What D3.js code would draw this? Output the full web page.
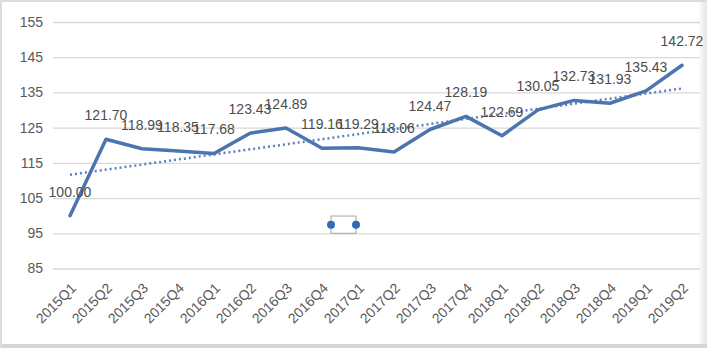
<!DOCTYPE html>
<html><head><meta charset="utf-8">
<script src="https://cdn.jsdelivr.net/npm/d3@7"></script>
<style>html,body{margin:0;padding:0;background:#fff;}svg{display:block;}</style>
</head><body>
<svg id="c" width="707" height="348"></svg>
<script>
const categories = ["2015Q1","2015Q2","2015Q3","2015Q4","2016Q1","2016Q2","2016Q3","2016Q4","2017Q1","2017Q2","2017Q3","2017Q4","2018Q1","2018Q2","2018Q3","2018Q4","2019Q1","2019Q2"];
const values = [100.00,121.70,118.99,118.35,117.68,123.43,124.89,119.16,119.29,118.06,124.47,128.19,122.69,130.05,132.73,131.93,135.43,142.72];
const yTicks = [85,95,105,115,125,135,145,155];

const W = 707, H = 348;
const svg = d3.select("#c");
const defs = svg.append("defs");
const g1 = defs.append("linearGradient").attr("id","rs").attr("x1","0").attr("x2","1");
g1.append("stop").attr("offset","0").attr("stop-color","#ffffff");
g1.append("stop").attr("offset","1").attr("stop-color","#e4e4e4");

svg.append("rect").attr("x",0).attr("y",0).attr("width",W).attr("height",H).attr("fill","#fff");
// frame
svg.append("rect").attr("x",698).attr("y",0).attr("width",9).attr("height",H).attr("fill","url(#rs)");
svg.append("rect").attr("x",0).attr("y",344).attr("width",W).attr("height",4).attr("fill","#d6d6d6");
svg.append("rect").attr("x",0).attr("y",0).attr("width",W).attr("height",2).attr("fill","#dcdcdc");
svg.append("rect").attr("x",0).attr("y",0).attr("width",2).attr("height",H).attr("fill","#dcdcdc");

const x = d3.scalePoint().domain(categories).range([70, 682]);
const y = d3.scaleLinear().domain([85,155]).range([268.5, 22]);

// gridlines
const yAxis = d3.axisLeft(y).tickValues(yTicks).tickSize(-(700-53)).tickPadding(8).tickFormat(d3.format("d"));
const ya = svg.append("g").attr("transform","translate(53,0)").call(yAxis);
ya.select(".domain").remove();
ya.selectAll(".tick line").attr("stroke","#d9d9d9").attr("stroke-width",1.3);
ya.selectAll(".tick text").attr("fill","#595959").attr("font-family","Liberation Sans, Arial, sans-serif").attr("font-size",14).attr("x",-10);

// x axis labels
const xAxis = d3.axisBottom(x).tickSize(0).tickPadding(0);
const xa = svg.append("g").attr("transform","translate(0,268.5)").call(xAxis);
xa.select(".domain").remove();
xa.selectAll(".tick text")
  .attr("fill","#595959").attr("font-family","Liberation Sans, Arial, sans-serif").attr("font-size",14)
  .attr("text-anchor","end").attr("dy","0.35em").attr("x",0).attr("y",0)
  .attr("transform","translate(3,17) rotate(-45)");

// trendline (linear least squares)
const n = values.length;
const xs = d3.range(n);
const mx = d3.mean(xs), my = d3.mean(values);
const slope = d3.sum(xs, i => (i-mx)*(values[i]-my)) / d3.sum(xs, i => (i-mx)*(i-mx));
const icpt = my - slope*mx;
svg.append("line")
  .attr("x1", x(categories[0])).attr("y1", y(icpt))
  .attr("x2", x(categories[n-1])).attr("y2", y(icpt + slope*(n-1)))
  .attr("stroke","#5b82bd").attr("stroke-width",2.5).attr("stroke-dasharray","2,3");

// main line
const line = d3.line().x((d,i)=>x(categories[i])).y(d=>y(d));
svg.append("path").datum(values).attr("d",line)
  .attr("fill","none").attr("stroke","#4c74ae").attr("stroke-width",3.5)
  .attr("stroke-linejoin","round").attr("stroke-linecap","round");

// data labels
svg.append("g").selectAll("text").data(values).join("text")
  .attr("x",(d,i)=>x(categories[i]))
  .attr("y",d=>y(d)-19)
  .attr("text-anchor","middle")
  .attr("fill","#4d4d4d").attr("font-family","Liberation Sans, Arial, sans-serif").attr("font-size",14)
  .text(d=>d.toFixed(2));

// selection handles artifact
const hx1 = 331, hx2 = 356;
svg.append("rect").attr("x",hx1).attr("y",y(99.9)).attr("width",hx2-hx1).attr("height",y(95)-y(99.9))
  .attr("fill","none").attr("stroke","#a6a6a6").attr("stroke-width",1);
svg.append("g").selectAll("circle").data([hx1,hx2]).join("circle")
  .attr("cx",d=>d).attr("cy",y(97.4)).attr("r",4).attr("fill","#2e6bb5");
</script>
</body></html>
